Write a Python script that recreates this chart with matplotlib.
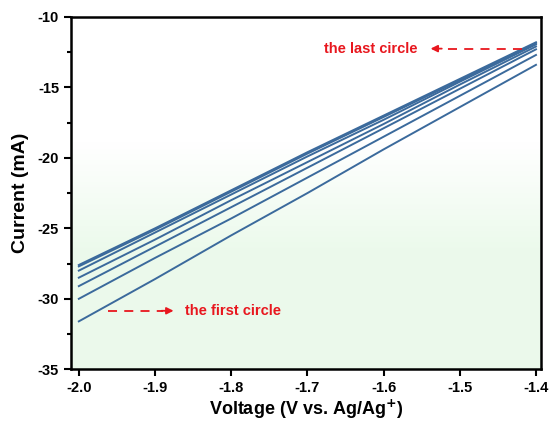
import numpy as np
import matplotlib.pyplot as plt

plt.rcParams['font.family'] = ['Liberation Sans', 'DejaVu Sans']
plt.rcParams['font.weight'] = 'bold'
plt.rcParams['axes.unicode_minus'] = False

# voltage points (V vs Ag/Ag+)
voltage = [-2.0, -1.9, -1.8, -1.7, -1.6, -1.5, -1.4]
# current (mA) of each cycle, first circle first
cycle1 = [-31.6, -28.6, -25.5, -22.5, -19.4, -16.4, -13.4]
cycle2 = [-30.0, -27.1, -24.3, -21.4, -18.5, -15.6, -12.7]
cycle3 = [-29.1, -26.3, -23.5, -20.7, -17.9, -15.1, -12.3]
cycle4 = [-28.5, -25.8, -23.0, -20.3, -17.6, -14.8, -12.1]
cycle5 = [-28.0, -25.3, -22.6, -19.9, -17.3, -14.6, -11.95]
cycle6 = [-27.7, -25.1, -22.4, -19.7, -17.1, -14.5, -11.85]
cycle7 = [-27.6, -25.0, -22.3, -19.6, -17.0, -14.4, -11.8]
cycles = [cycle1, cycle2, cycle3, cycle4, cycle5, cycle6, cycle7]

fig = plt.figure(figsize=(5.49, 4.23), dpi=100)
ax = fig.add_axes([0.129, 0.127, 0.857, 0.833])

# white-to-green background (row 0 = top)
grad = np.ones((256, 1, 3))
t = np.linspace(0, 1, 256)
w = np.clip((t - 0.36) / 0.3, 0, 1)
top = np.array([1.0, 1.0, 1.0])
bot = np.array([0.925, 0.98, 0.925])
for i in range(256):
    grad[i, 0, :] = top * (1 - w[i]) + bot * w[i]
ax.imshow(grad, extent=[0, 1, 0, 1], origin='upper', transform=ax.transAxes,
          aspect='auto', zorder=0)

for c in cycles:
    ax.plot(voltage, c, color='#3b6a9c', lw=1.4, zorder=2)

ax.set_xlim(-2.0105, -1.393)
ax.set_ylim(-35, -10)
ax.set_xticks([-2.0, -1.9, -1.8, -1.7, -1.6, -1.5, -1.4])
ax.set_yticks([-35, -30, -25, -20, -15, -10])
ax.set_yticks(np.arange(-32.5, -10, 5), minor=True)
ax.tick_params(axis='both', which='major', direction='out', length=5, width=1.5, labelsize=10.5)
ax.tick_params(axis='y', which='minor', direction='out', length=3, width=1.5)
for s in ax.spines.values():
    s.set_linewidth(1.8)
for lab in ax.get_xticklabels() + ax.get_yticklabels():
    lab.set_fontweight('bold')

ax.set_xlabel('Voltage (V vs. Ag/Ag$^{\\mathbf{+}}$)', fontsize=13, fontweight='bold', labelpad=2)
ax.set_ylabel('Current (mA)', fontsize=14, fontweight='bold', labelpad=6)

red = '#e8171e'
# last circle annotation
ax.plot([-1.418, -1.525], [-12.25, -12.25], color=red, lw=1.3, ls=(0, (5, 4)), zorder=3)
ax.annotate('', xy=(-1.542, -12.25), xytext=(-1.52, -12.25),
            arrowprops=dict(arrowstyle='-|>', color=red, lw=1.3, mutation_scale=10))
ax.text(-1.556, -12.25, 'the last circle', color=red, fontsize=10.5, fontweight='bold',
        ha='right', va='center')
# first circle annotation
ax.plot([-1.962, -1.89], [-30.85, -30.85], color=red, lw=1.3, ls=(0, (5, 4)), zorder=3)
ax.annotate('', xy=(-1.872, -30.85), xytext=(-1.895, -30.85),
            arrowprops=dict(arrowstyle='-|>', color=red, lw=1.3, mutation_scale=10))
ax.text(-1.861, -30.85, 'the first circle', color=red, fontsize=10.5, fontweight='bold',
        ha='left', va='center')

fig.savefig('out.png', dpi=100)
